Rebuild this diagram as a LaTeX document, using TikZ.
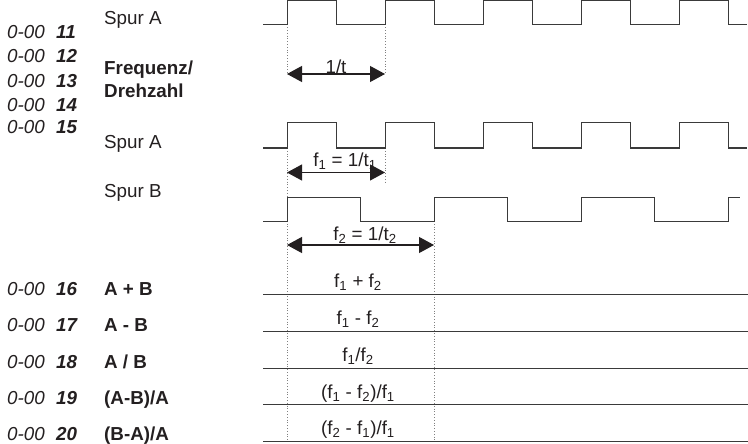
\documentclass[tikz,border=0pt]{standalone}
\usepackage{fontspec}
\setmainfont{Liberation Sans}
\usetikzlibrary{arrows.meta}
\definecolor{ink}{HTML}{231F20}
\definecolor{wave}{HTML}{3A3A3A}
\begin{document}
\begin{tikzpicture}[x=1pt,y=-1pt,
  every node/.style={font=\fontsize{18.8}{22}\selectfont, text=ink, inner sep=0pt},
  lbl/.style={anchor=base west},
  code/.style={anchor=base west, font=\fontsize{18.8}{22}\selectfont\itshape},
  num/.style={anchor=base west, font=\fontsize{18.8}{22}\selectfont\bfseries\itshape},
  blbl/.style={anchor=base west, font=\fontsize{18.8}{22}\selectfont\bfseries},
  sig/.style={draw=wave, line width=1pt},
  guide/.style={draw=gray, dotted, line width=0.8pt},
  dimarrow/.style={draw=ink, line width=1.2pt, {Triangle[length=15pt,width=16pt]}-{Triangle[length=15pt,width=16pt]}},
  vlbl/.style={anchor=base}
]
\useasboundingbox (0,0) rectangle (748,444);

% left column codes
\foreach \n/\y in {11/38.3,12/62.7,13/87.3,14/111.7,15/134,16/295,17/331.7,18/368.3,19/404.5,20/440.3}{
  \node[code] (c\n) at (7,\y) {0-00};
  \node[num] (k\n) at (56,\y) {\n};
}

% signal names
\node[lbl] (spA1) at (104,25) {Spur A};
\node[blbl] (freq) at (104,75) {Frequenz/};
\node[blbl] (dreh) at (104,98) {Drehzahl};
\node[lbl] (spA2) at (104,149) {Spur A};
\node[lbl] (spB) at (104,197) {Spur B};
\node[blbl] (op16) at (104,295) {A + B};
\node[blbl] (op17) at (104,331.7) {A - B};
\node[blbl] (op18) at (104,368.3) {A / B};
\node[blbl] (op19) at (104,404.5) {(A-B)/A};
\node[blbl] (op20) at (104,440.3) {(B-A)/A};

% dotted guides
\draw[guide] (287,24.5) -- (287,74);
\draw[guide] (385,24.5) -- (385,74);
\draw[guide] (287,148) -- (287,440);
\draw[guide] (385,148) -- (385,183);
\draw[guide] (434,221) -- (434,440);

% top Spur A
\draw[sig] (263,24.5) -- (287,24.5) -- (287,1) -- (336,1) -- (336,24.5) -- (385,24.5) -- (385,1) -- (434,1) -- (434,24.5) -- (483,24.5) -- (483,1) -- (532,1) -- (532,24.5) -- (581,24.5) -- (581,1) -- (630,1) -- (630,24.5) -- (679,24.5) -- (679,1) -- (728,1) -- (728,24.5) -- (747,24.5);

% second Spur A
\draw[sig] (263,148) -- (287,148) -- (287,123) -- (336,123) -- (336,148) -- (385,148) -- (385,123) -- (434,123) -- (434,148) -- (483,148) -- (483,123) -- (532,123) -- (532,148) -- (581,148) -- (581,123) -- (630,123) -- (630,148) -- (679,148) -- (679,123) -- (728,123) -- (728,148) -- (747,148);

% Spur B
\draw[sig] (263,221) -- (287,221) -- (287,197) -- (360.5,197) -- (360.5,221) -- (434,221) -- (434,197) -- (507.5,197) -- (507.5,221) -- (581,221) -- (581,197) -- (654.5,197) -- (654.5,221) -- (728,221) -- (728,197) -- (740,197);

% dimension arrows
\coordinate (a1l) at (287,74);
\coordinate (a1r) at (385,74);
\coordinate (a2l) at (287,172.5);
\coordinate (a2r) at (385,172.5);
\coordinate (a3l) at (287,245);
\coordinate (a3r) at (434,245);
\draw[dimarrow] (a1l) -- (a1r);
\draw[dimarrow] (a2l) -- (a2r);
\draw[dimarrow] (a3l) -- (a3r);
\node[vlbl] (l1) at (336,73.5) {1/t};
\node[vlbl] (l2) at (345,166.5) {f\textsubscript{1} = 1/t\textsubscript{1}};
\node[vlbl] (l3) at (365,240) {f\textsubscript{2} = 1/t\textsubscript{2}};

% result lines
\foreach \y/\t in {294/{f\textsubscript{1} + f\textsubscript{2}},
                   331/{f\textsubscript{1} - f\textsubscript{2}},
                   368/{f\textsubscript{1}/f\textsubscript{2}},
                   404.5/{(f\textsubscript{1} - f\textsubscript{2})/f\textsubscript{1}},
                   441/{(f\textsubscript{2} - f\textsubscript{1})/f\textsubscript{1}}}{
  \draw[sig] (263,\y) -- (748,\y);
  \node[vlbl] at (358,\y-6.5) {\t};
}
\end{tikzpicture}
\end{document}
